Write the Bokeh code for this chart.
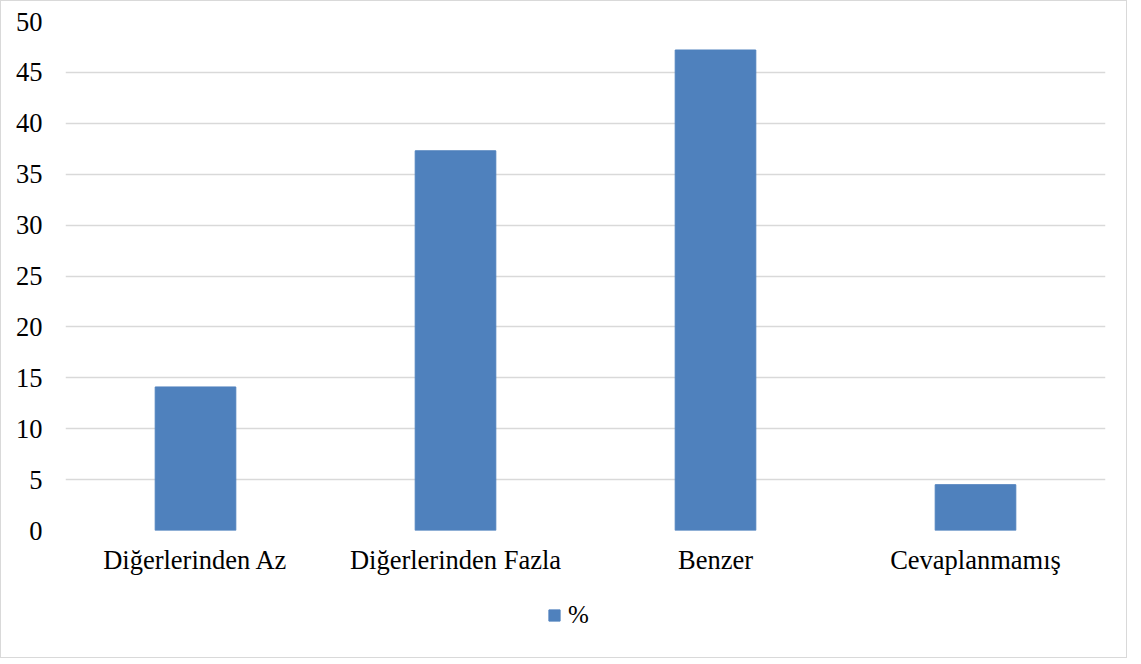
from bokeh.plotting import figure
from bokeh.layouts import column
from bokeh.models import ColumnDataSource, Legend, LegendItem, FactorRange, Range1d, SingleIntervalTicker
from bokeh.embed import file_html
from bokeh.resources import INLINE

categories = ["Diğerlerinden Az", "Diğerlerinden Fazla", "Benzer", "Cevaplanmamış"]
values = [14.1, 37.3, 47.2, 4.5]
series_name = "%"

FONT = "Liberation Serif"
BAR = "#4F81BD"
source = ColumnDataSource(dict(cat=categories, val=values))

p = figure(
    width=1125, height=600,
    x_range=FactorRange(*categories, range_padding=0),
    y_range=Range1d(0, 50),
    output_backend="svg", toolbar_location=None,
    min_border_left=64, min_border_right=21, min_border_top=20, min_border_bottom=71,
)
p.outline_line_color = None

p.vbar(x="cat", top="val", width=0.31, source=source, fill_color=BAR, line_color=BAR)

p.xgrid.grid_line_color = None
p.ygrid.grid_line_color = "#D9D9D9"
p.ygrid.grid_line_width = 1.5
p.yaxis.ticker = SingleIntervalTicker(interval=5)

for ax in (p.xaxis[0], p.yaxis[0]):
    ax.axis_line_color = None
    ax.major_tick_line_color = None
    ax.minor_tick_line_color = None
    ax.major_label_text_font = FONT
    ax.major_label_text_font_size = "26.5px"
    ax.major_label_text_color = "#000000"

p.yaxis.major_label_standoff = 17
p.xaxis.major_label_standoff = 8

# legend strip below the chart
lg = figure(
    width=1125, height=56, x_range=Range1d(0, 1), y_range=Range1d(0, 1),
    x_axis_type=None, y_axis_type=None,
    output_backend="svg", toolbar_location=None,
    min_border_left=0, min_border_right=0, min_border_top=0, min_border_bottom=0,
)
lg.outline_line_color = None
lg.xgrid.grid_line_color = None
lg.ygrid.grid_line_color = None
legend_src = ColumnDataSource(dict(x=[0.5], top=[1]))
dummy = lg.vbar(x="x", top="top", width=0.1, source=legend_src, fill_color=BAR, line_color=BAR)
dummy.visible = False

legend = Legend(items=[LegendItem(label=series_name, renderers=[dummy])],
                location=(482, 28), orientation="horizontal",
                border_line_color=None, background_fill_alpha=0,
                label_text_font=FONT, label_text_font_size="25px",
                label_text_color="#000000",
                glyph_width=14, glyph_height=14, label_standoff=7,
                padding=0, margin=0)
lg.add_layout(legend, "center")

layout = column(p, lg, spacing=0)
layout.styles = {"border": "1px solid #D9D9D9", "box-sizing": "border-box"}

open("out.html", "w").write(file_html(layout, INLINE))
